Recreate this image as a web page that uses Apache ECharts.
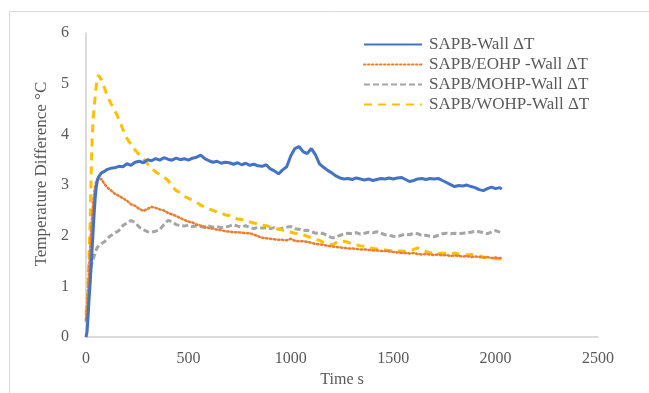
<!DOCTYPE html>
<html>
<head>
<meta charset="utf-8">
<script src="https://cdn.jsdelivr.net/npm/echarts@6/dist/echarts.min.js"></script>
<style>html,body{margin:0;padding:0;background:#fff}#c{width:649px;height:393px}</style>
</head>
<body>
<div id="c"></div>
<script>
// Time (s)
const time = [0,5,10,15,20,25,30,35,40,45,50,55,60,75,90,105,120,
140,160,180,200,220,240,260,280,300,320,
340,360,380,400,420,440,460,480,500,520,
540,560,580,600,620,640,660,680,700,720,
740,760,780,800,820,840,860,880,900,920,
940,960,980,1000,1020,1040,1060,1080,1100,1120,
1140,1160,1180,1200,1220,1240,1260,1280,1300,1320,
1340,1360,1380,1400,1420,1440,1460,1480,1500,1520,
1540,1560,1580,1600,1620,1640,1660,1680,1700,1720,
1740,1760,1780,1800,1820,1840,1860,1880,1900,1920,
1940,1960,1980,2000,2020,2030];

const sapbWall = [0,0.1,0.4,0.75,1.05,1.4,1.75,2.1,2.45,2.75,2.95,3.08,3.15,3.24,3.27,3.31,3.33,
3.34,3.37,3.36,3.42,3.39,3.45,3.47,3.44,3.50,3.48,
3.52,3.49,3.54,3.51,3.49,3.53,3.50,3.52,3.49,3.53,
3.55,3.59,3.52,3.48,3.45,3.47,3.43,3.45,3.44,3.41,
3.44,3.40,3.43,3.39,3.41,3.38,3.37,3.40,3.32,3.28,
3.22,3.30,3.36,3.58,3.72,3.76,3.66,3.62,3.72,3.60,
3.42,3.35,3.29,3.24,3.18,3.14,3.12,3.13,3.11,3.14,
3.12,3.10,3.12,3.09,3.11,3.13,3.12,3.14,3.12,3.14,
3.15,3.11,3.07,3.09,3.12,3.13,3.11,3.13,3.12,3.13,
3.09,3.05,3.01,2.97,2.99,2.98,3.00,2.97,2.95,2.91,
2.89,2.93,2.96,2.93,2.95,2.92];

const eohpWall = [0.35,0.6,0.95,1.35,1.75,2.1,2.4,2.65,2.85,2.98,3.07,3.12,3.15,3.12,3.02,2.95,2.90,
2.83,2.79,2.74,2.69,2.62,2.59,2.53,2.49,2.53,2.57,
2.55,2.52,2.50,2.45,2.42,2.39,2.35,2.31,2.28,2.26,
2.22,2.20,2.18,2.15,2.14,2.12,2.11,2.09,2.08,2.07,
2.07,2.06,2.05,2.05,2.02,1.99,1.96,1.95,1.94,1.93,
1.92,1.92,1.91,1.94,1.90,1.89,1.89,1.88,1.86,1.84,
1.83,1.82,1.80,1.79,1.78,1.77,1.76,1.75,1.75,1.74,
1.73,1.73,1.72,1.71,1.71,1.70,1.70,1.69,1.68,1.67,
1.66,1.66,1.65,1.66,1.64,1.63,1.64,1.63,1.62,1.63,
1.61,1.62,1.60,1.61,1.60,1.59,1.60,1.58,1.59,1.58,
1.57,1.58,1.56,1.57,1.56,1.56];

const mohpWall = [0.3,0.45,0.7,0.95,1.2,1.38,1.48,1.54,1.6,1.66,1.72,1.77,1.80,1.84,1.88,1.95,2.0,
2.05,2.10,2.20,2.25,2.30,2.26,2.17,2.12,2.08,2.07,
2.09,2.12,2.22,2.30,2.28,2.22,2.20,2.19,2.21,2.18,
2.19,2.18,2.16,2.19,2.17,2.18,2.16,2.17,2.19,2.22,
2.19,2.17,2.20,2.16,2.14,2.17,2.15,2.16,2.14,2.16,
2.13,2.15,2.17,2.18,2.14,2.13,2.10,2.11,2.08,2.05,
2.06,2.04,2.00,1.96,1.97,2.01,2.03,2.05,2.04,2.06,
2.03,2.05,2.07,2.06,2.08,2.05,2.02,2.01,1.99,1.98,
2.01,2.03,2.02,2.05,2.04,2.00,2.01,1.99,1.98,2.01,
2.04,2.05,2.04,2.05,2.04,2.05,2.06,2.07,2.09,2.08,
2.06,2.04,2.07,2.10,2.07,2.05];

const wohpWall = [0.45,0.7,1.1,1.6,2.2,3.2,3.9,4.3,4.55,4.75,4.95,5.1,5.17,5.08,4.92,4.75,4.62,
4.48,4.30,4.10,3.92,3.80,3.69,3.60,3.52,3.42,3.33,
3.26,3.21,3.16,3.09,2.98,2.89,2.85,2.78,2.74,2.70,
2.66,2.60,2.57,2.53,2.50,2.47,2.45,2.41,2.40,2.36,
2.33,2.32,2.29,2.27,2.25,2.23,2.21,2.20,2.17,2.15,
2.13,2.11,2.09,2.07,2.05,2.04,2.02,1.99,1.96,1.93,
1.91,1.87,1.84,1.82,1.86,1.88,1.89,1.87,1.84,1.82,
1.80,1.79,1.77,1.75,1.74,1.73,1.72,1.71,1.70,1.70,
1.70,1.69,1.70,1.73,1.76,1.73,1.69,1.66,1.67,1.65,
1.66,1.65,1.64,1.66,1.63,1.64,1.62,1.63,1.61,1.60,
1.58,1.57,1.56,1.55,1.54,1.53];

const seriesNames = ['SAPB-Wall \u0394T','SAPB/EOHP -Wall \u0394T','SAPB/MOHP-Wall \u0394T','SAPB/WOHP-Wall \u0394T'];
const xTicks = [0,500,1000,1500,2000,2500];
const yTicks = [0,1,2,3,4,5,6];

const pairs = arr => time.map((t,i)=>[t,arr[i]]);
const FONT = 'Liberation Serif';
const TXT = '#595959';

const chart = echarts.init(document.getElementById('c'), null, {renderer:'canvas'});
chart.setOption({
  animation:false,
  backgroundColor:'#fff',
  graphic:[{type:'rect',shape:{x:9.5,y:11.5,width:700,height:500},style:{fill:'none',stroke:'#d9d9d9',lineWidth:1},silent:true,z:-1}],
  grid:{left:86,right:51,top:33,bottom:46,containLabel:false},
  legend:{
    orient:'vertical',left:358,top:31,itemWidth:58,itemHeight:14,itemGap:3,
    itemStyle:{opacity:0},
    textStyle:{fontFamily:FONT,fontSize:17,color:TXT,padding:[0,0,0,2]},
    data:seriesNames
  },
  xAxis:{
    type:'value',min:xTicks[0],max:xTicks[xTicks.length-1],interval:500,
    name:'Time s',nameLocation:'middle',nameGap:32,
    nameTextStyle:{fontFamily:FONT,fontSize:16,color:TXT},
    axisLine:{show:true,lineStyle:{color:'#d0d0d0',width:1.5}},
    axisTick:{show:false},splitLine:{show:false},
    axisLabel:{fontFamily:FONT,fontSize:16,color:TXT,margin:14,formatter:v=>String(v)}
  },
  yAxis:{
    type:'value',min:yTicks[0],max:yTicks[yTicks.length-1],interval:1,
    name:'Temperature Difference \u00B0C',nameLocation:'middle',nameGap:32,
    nameTextStyle:{fontFamily:FONT,fontSize:17,color:TXT,padding:[0,0,0,22]},
    axisLine:{show:true,lineStyle:{color:'#d0d0d0',width:1.5}},
    axisTick:{show:false},splitLine:{show:false},
    axisLabel:{fontFamily:FONT,fontSize:16,color:TXT,margin:17,formatter:v=>String(v)}
  },
  series:[
    {name:seriesNames[0],type:'line',data:pairs(sapbWall),symbol:'none',z:4,
      lineStyle:{color:'#4472C4',width:3},itemStyle:{color:'#4472C4'}},
    {name:seriesNames[1],type:'line',data:pairs(eohpWall),symbol:'none',z:3,
      lineStyle:{color:'#ED7D31',width:2.5,type:[1.5,2.5],cap:'round'},itemStyle:{color:'#ED7D31'}},
    {name:seriesNames[2],type:'line',data:pairs(mohpWall),symbol:'none',z:2,
      lineStyle:{color:'#A5A5A5',width:3,type:[6,3]},itemStyle:{color:'#A5A5A5'}},
    {name:seriesNames[3],type:'line',data:pairs(wohpWall),symbol:'none',z:2,
      lineStyle:{color:'#FFC000',width:3,type:[8,6]},itemStyle:{color:'#FFC000'}}
  ]
});
</script>
</body>
</html>
